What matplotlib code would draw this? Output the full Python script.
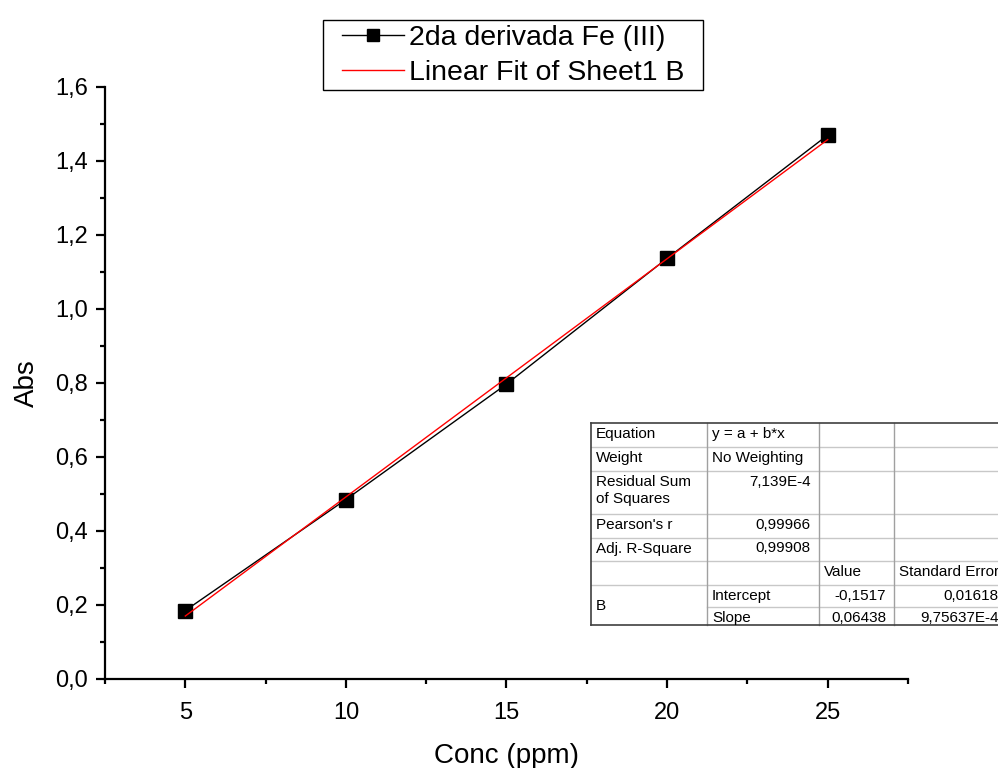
import numpy as np
import matplotlib.pyplot as plt
from matplotlib.ticker import MultipleLocator, FixedLocator, FuncFormatter

# Messdaten (Konzentration vs. Absorbanz, 2. Ableitung)
conc = [5, 10, 15, 20, 25]
absorb = [0.185, 0.485, 0.797, 1.137, 1.470]

# Fit-Parameter aus der Origin-Tabelle
intercept = -0.1517
slope = 0.06438

# Tabelleninhalt
table_rows = [
    ["Equation", "y = a + b*x", "", ""],
    ["Weight", "No Weighting", "", ""],
    ["Residual Sum\nof Squares", "7,139E-4", "", ""],
    ["Pearson's r", "0,99966", "", ""],
    ["Adj. R-Square", "0,99908", "", ""],
    ["", "", "Value", "Standard Error"],
    ["B", "Intercept", "-0,1517", "0,01618"],
    ["", "Slope", "0,06438", "9,75637E-4"],
]
# links- (l) oder rechtsbuendig (r)
table_align = [
    ["l", "l", "l", "l"],
    ["l", "l", "l", "l"],
    ["l", "r", "l", "l"],
    ["l", "r", "l", "l"],
    ["l", "r", "l", "l"],
    ["l", "l", "l", "l"],
    ["l", "l", "r", "r"],
    ["l", "l", "r", "r"],
]
row_h = [24, 24, 43, 23.5, 23.5, 24, 22, 18]
col_w = [116, 112, 75, 113]

plt.rcParams['font.family'] = ['Liberation Sans', 'DejaVu Sans']

W, H = 998, 768
fig = plt.figure(figsize=(W / 100, H / 100), dpi=100)
ax = fig.add_axes([105 / W, 1 - 679 / H, (908 - 105) / W, (679 - 87) / H])

ax.plot(conc, absorb, color='black', lw=1.0, marker='s', ms=9.5,
        label='2da derivada Fe (III)', zorder=2)
xfit = np.array([conc[0], conc[-1]])
ax.plot(xfit, intercept + slope * xfit, color='red', lw=1.0,
        label='Linear Fit of Sheet1 B', zorder=3)

ax.set_xlim(2.5, 27.5)
ax.set_ylim(0, 1.6)
ax.xaxis.set_major_locator(MultipleLocator(5))
ax.xaxis.set_minor_locator(FixedLocator([2.5, 7.5, 12.5, 17.5, 22.5, 27.5]))
ax.yaxis.set_major_locator(MultipleLocator(0.2))
ax.yaxis.set_minor_locator(MultipleLocator(0.1))
ax.yaxis.set_major_formatter(FuncFormatter(lambda v, p: f"{v:.1f}".replace('.', ',')))
ax.xaxis.set_major_formatter(FuncFormatter(lambda v, p: f"{v:g}"))

for s in ['top', 'right']:
    ax.spines[s].set_visible(False)
for s in ['left', 'bottom']:
    ax.spines[s].set_linewidth(1.6)
ax.tick_params(which='major', direction='out', length=6.5, width=1.6, labelsize=17)
ax.tick_params(axis='x', which='major', pad=10)
ax.tick_params(axis='y', which='major', pad=6)
ax.tick_params(which='minor', direction='out', length=3.5, width=1.6)

ax.set_xlabel('Conc (ppm)', fontsize=20, labelpad=14)
ax.set_ylabel('Abs', fontsize=20, labelpad=11)

leg = ax.legend(loc='lower center', bbox_to_anchor=(0.508, 0.997), fontsize=20.5,
                frameon=False, numpoints=1, markerscale=0.9,
                handlelength=2.2, handletextpad=0.15, borderpad=0.1,
                labelspacing=0.3, borderaxespad=0.0)

# Rahmen der Legende von Hand: breiter als hoch gepolstert
fig.canvas.draw()
bb = leg.get_window_extent()
pad_x, pad_y = 16, 2
fig.add_artist(plt.Rectangle((bb.x0 - pad_x, bb.y0 - pad_y + 1),
                             bb.width + 2 * pad_x, bb.height + 2 * pad_y,
                             transform=None, facecolor='none', edgecolor='black',
                             lw=1.0))

# --- Tabelle (Pixel-Koordinaten, rechts abgeschnitten wie im Original) ---
tx0, ty0 = 591, 423
tw, th = sum(col_w), sum(row_h)
tab = fig.add_axes([tx0 / W, 1 - (ty0 + th) / H, tw / W, th / H])
tab.set_xlim(0, tw)
tab.set_ylim(th, 0)
tab.axis('off')
tab.add_patch(plt.Rectangle((0, 0), tw, th, facecolor='white', edgecolor='none', zorder=0))

col_x = np.concatenate([[0], np.cumsum(col_w)])
row_y = np.concatenate([[0], np.cumsum(row_h)])

for i in range(1, len(row_h)):
    x_start = col_x[1] if i == len(row_h) - 1 else 0
    tab.plot([x_start, tw], [row_y[i]] * 2, color='#c8c8c8', lw=1.0, clip_on=False)
for j in range(1, len(col_w)):
    tab.plot([col_x[j]] * 2, [0, th], color='#a0a0a0', lw=1.0, clip_on=False)
for xs, ys in [([0, tw], [0, 0]), ([0, tw], [th, th]), ([0, 0], [0, th]), ([tw, tw], [0, th])]:
    tab.plot(xs, ys, color='#404040', lw=1.2, clip_on=False)

for i, row in enumerate(table_rows):
    for j, txt in enumerate(row):
        if not txt:
            continue
        if txt == "B":
            y = (row_y[i] + row_y[i + 2]) / 2 + 1
            va = 'center'
        else:
            y = row_y[i] + 4
            va = 'top'
        if table_align[i][j] == 'r':
            x, ha = col_x[j + 1] - 8, 'right'
        else:
            x, ha = col_x[j] + 5, 'left'
        tab.text(x, y, txt, ha=ha, va=va, fontsize=11, linespacing=1.3)

fig.savefig('out.png', dpi=100)
